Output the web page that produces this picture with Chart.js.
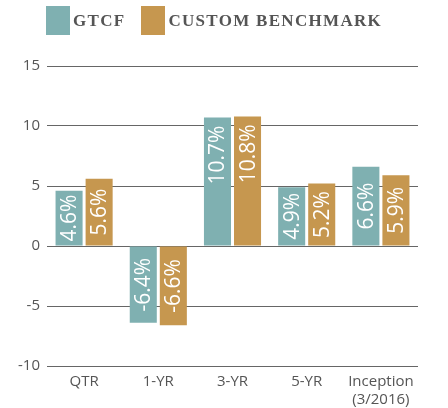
<!DOCTYPE html>
<html>
<head>
<meta charset="utf-8">
<script src="https://cdn.jsdelivr.net/npm/chart.js@4"></script>
<style>
  body { margin: 0; background: #fff; }
  #wrap { position: relative; width: 448px; height: 408px; }
  #legend { position: absolute; top: 6px; left: 46px; display: flex; align-items: center; }
  .lg-item { display: flex; align-items: center; margin-right: 16px; }
  .lg-box { width: 24px; height: 29px; margin-right: 3px; }
  .lg-text { font: bold 17px 'Liberation Serif', serif; letter-spacing: 1.3px; color: #555; }
</style>
</head>
<body>
<div id="wrap">
  <canvas id="chart" width="448" height="408"></canvas>
  <div id="legend"></div>
</div>
<script>
// Performance chart — GTCF vs custom benchmark

var categories = ['QTR', '1-YR', '3-YR', '5-YR', ['Inception', '(3/2016)']];
var gtcfValues = [4.6, -6.4, 10.7, 4.9, 6.6];
var benchValues = [5.6, -6.6, 10.8, 5.2, 5.9];
var seriesNames = ['GTCF', 'CUSTOM BENCHMARK'];
var yTicks = [-10, -5, 0, 5, 10, 15];

var COLORS = {
  teal: '#7fb0b1',
  gold: '#c6974f',
  text: '#555',
  grid: '#666'
};

var AXIS_FONT = { family: "'Open Sans', sans-serif", size: 15, lineHeight: 1.2 };

// white rotated value labels inside bars
var barLabels = {
  id: 'barLabels',
  afterDatasetsDraw: function (chart) {
    var ctx = chart.ctx;
    ctx.save();
    ctx.fillStyle = '#fff';
    ctx.font = "21px 'Open Sans', sans-serif";
    ctx.textBaseline = 'middle';
    chart.data.datasets.forEach(function (ds, i) {
      chart.getDatasetMeta(i).data.forEach(function (bar, j) {
        var v = ds.data[j];
        var txt = v.toFixed(1) + '%';
        var top = Math.min(bar.y, bar.base);
        var bottom = Math.max(bar.y, bar.base);
        var len = bottom - top;
        var y, align;
        if (len > 100) {
          if (v >= 0) { y = top + 8; align = 'right'; }
          else { y = bottom - 8; align = 'left'; }
        } else {
          y = (top + bottom) / 2; align = 'center';
        }
        ctx.save();
        ctx.translate(bar.x + 1, y);
        ctx.rotate(-Math.PI / 2);
        ctx.textAlign = align;
        ctx.fillText(txt, 0, 0);
        ctx.restore();
      });
    });
    ctx.restore();
  }
};

var datasets = [
  { label: seriesNames[0], data: gtcfValues, backgroundColor: COLORS.teal },
  { label: seriesNames[1], data: benchValues, backgroundColor: COLORS.gold }
];

var chart = new Chart(document.getElementById('chart'), {
  type: 'bar',
  data: { labels: categories, datasets: datasets },
  options: {
    responsive: false,
    animation: false,
    categoryPercentage: 0.81,
    barPercentage: 0.9,
    layout: { padding: { top: 66, left: 17, right: 30, bottom: 0 } },
    plugins: { legend: { display: false }, tooltip: { enabled: false } },
    scales: {
      x: {
        grid: { display: false },
        border: { display: false },
        ticks: { color: COLORS.text, font: AXIS_FONT, padding: -1, maxRotation: 0 },
        afterFit: function (s) { s.height = 42; }
      },
      y: {
        min: yTicks[0],
        max: yTicks[yTicks.length - 1],
        afterBuildTicks: function (s) {
          s.ticks = yTicks.map(function (v) { return { value: v }; });
        },
        grid: { color: COLORS.grid, lineWidth: 1, drawTicks: false },
        border: { display: false },
        ticks: { color: COLORS.text, font: AXIS_FONT, padding: 7 },
        afterFit: function (s) { s.width = 30; }
      }
    }
  },
  plugins: [barLabels]
});

// html legend built from the datasets
var legend = document.getElementById('legend');
datasets.forEach(function (ds) {
  var item = document.createElement('div');
  item.className = 'lg-item';
  var box = document.createElement('div');
  box.className = 'lg-box';
  box.style.background = ds.backgroundColor;
  var t = document.createElement('span');
  t.className = 'lg-text';
  t.textContent = ds.label;
  item.appendChild(box);
  item.appendChild(t);
  legend.appendChild(item);
});
</script>
</body>
</html>
